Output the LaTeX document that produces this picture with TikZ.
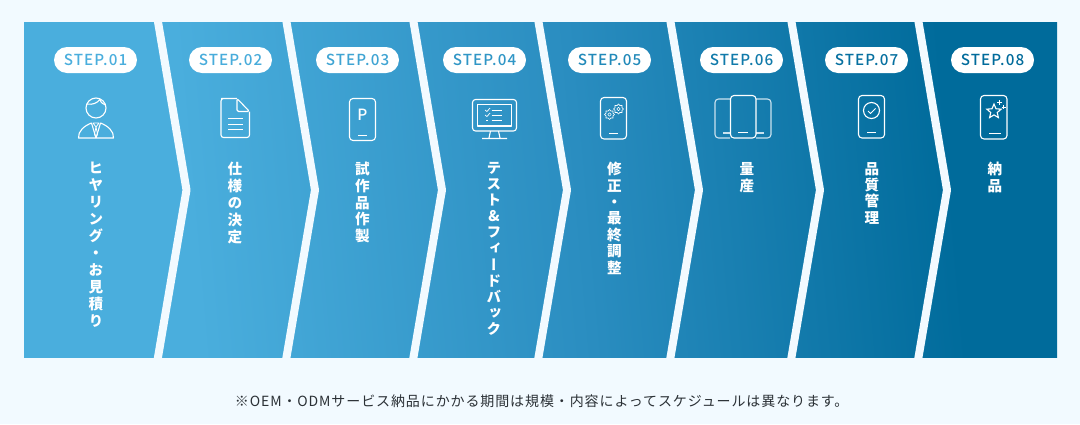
\documentclass[tikz,border=0pt]{standalone}
\usepackage{fontspec}
\setmainfont{Noto Sans CJK JP}
\newfontfamily\tatefont[RawFeature=+vert]{Noto Sans CJK JP}
\newfontfamily\pillfont[LetterSpace=7]{Noto Sans CJK JP Medium}
\newfontfamily\notefont[LetterSpace=6.4]{Noto Sans CJK JP}
\usepackage{xcolor}
\definecolor{paper}{HTML}{F2FAFF}
\definecolor{bandlight}{HTML}{4AAEDD}
\definecolor{bandmid}{HTML}{2A8DC0}
\definecolor{banddark}{HTML}{006B9B}
\definecolor{ink}{HTML}{2B3136}
\usetikzlibrary{shapes.geometric}
\pgfdeclarehorizontalshading{bandshade}{100bp}{
  color(0bp)=(bandlight); color(32bp)=(bandlight); color(52bp)=(bandmid);
  color(71bp)=(banddark); color(100bp)=(banddark)}

\begin{document}
\begin{tikzpicture}[x=1pt,y=-1pt,
  pill/.style={fill=white,rounded corners=13pt,minimum width=83pt,minimum height=26pt,
    inner sep=0pt,font=\pillfont\fontsize{15.2}{15}\selectfont},
  tate/.style={anchor=north,align=center,inner sep=0pt,text=white,
    font=\tatefont\bfseries\fontsize{14.6}{#1}\selectfont},
  icon/.style={draw=white,line width=1.1pt,line join=round},
  faint/.style={draw=white!75!bandmid,line width=1.1pt},
  gap/.style={draw=paper,line width=8pt,line join=bevel}]
  \useasboundingbox (0,0) rectangle (1080,424);
  \fill[paper] (0,0) rectangle (1080,424);

  % --- Bande en degrade ---
  \shade[shading=bandshade,shading angle=5] (24,22) rectangle (1057,357);

  % --- Separateurs ---
  \foreach \x in {158,286.5,413.5,538.5,670.5,791.5,918.5}
    \draw[gap] (\x-0.3,20) -- (\x+28.5,190) -- (\x-0.3,359);

  % --- Etapes ---
  \foreach \n/\px/\lx/\mix/\ls/\txt in {
    1/95.5/96/0/17/{ヒ\\ヤ\\リ\\ン\\グ\\・\\お\\見\\積\\り},
    2/230.5/235/3/17/{仕\\様\\の\\決\\定},
    3/357.5/362.5/15/16.7/{試\\作\\品\\作\\製},
    4/484.5/494/35/16.1/{テ\\ス\\ト\\\&\\フ\\ィ\\ー\\ド\\バ\\ッ\\ク},
    5/609.5/614.5/55/16.4/{修\\正\\・\\最\\終\\調\\整},
    6/741.5/747/78/17/{量\\産},
    7/866.5/872/92/16.3/{品\\質\\管\\理},
    8/992.5/995/100/17/{納\\品}}{
    \node[pill,text=banddark!\mix!bandlight] (pill\n) at (\px,60) {STEP.0\n};
    \node[tate=\ls] (label\n) at (\lx,162) {\txt};
  }

  % --- Icone 1 : personne ---
  \draw[icon] (96,108) circle[radius=10];
  \draw[icon] (87,104) .. controls (93,105) and (97,103) .. (100,99.5)
    .. controls (101,103) and (103,104) .. (105.5,105);
  \draw[icon] (78.5,138) .. controls (78,131) and (84,126) .. (91.5,123) -- (96,138)
    -- (100.5,123) .. controls (108,126) and (114,131) .. (113.5,138) -- cycle;
  \draw[icon,line width=.8pt] (93,123) -- (99,123) -- (96,127) -- cycle;
  \draw[icon,line width=.8pt] (96,127) -- (94.5,134) -- (96,138) -- (97.5,134) -- cycle;

  % --- Icone 2 : document ---
  \draw[icon,rounded corners=2.5pt] (237,98.5) -- (224,98.5) -- (221,98.5) -- (221,137.5)
    -- (249.5,137.5) -- (249.5,111.5);
  \draw[icon,rounded corners=1.5pt] (237,98.5) -- (237,111.5) -- (249.5,111.5) -- cycle;
  \foreach \y in {118.5,124,129}
    \draw[icon,line width=.9pt] (228,\y) -- (243,\y);

  % --- Icone 3 : telephone P ---
  \draw[icon,rounded corners=3.5pt] (349.5,98.5) rectangle (375.5,140.5);
  \draw[icon,line width=.9pt] (358,135) -- (367,135);
  \node[text=white,inner sep=0pt,font=\pillfont\fontsize{15.5}{15.5}\selectfont] (parking) at (362.5,115) {P};

  % --- Icone 4 : ecran ---
  \draw[icon,rounded corners=3pt] (472.5,99.5) rectangle (516.5,131);
  \draw[icon] (477.5,104.5) rectangle (511.5,126);
  \draw[icon] (490.5,131) -- (489,138) (498.5,131) -- (500,138) (482,138.5) -- (507,138.5);
  \foreach \y in {110,115}{
    \draw[icon,line width=.7pt] (485,\y) -- (487,\y+1.5) -- (490,\y-2);
    \draw[icon,line width=.7pt] (491.5,\y) -- (502,\y);
  }
  \draw[icon,line width=.7pt] (486,120) -- (488,120) (491.5,120) -- (502,120);

  % --- Icone 5 : telephone et engrenages ---
  \draw[icon,rounded corners=3.5pt] (600.5,97.5) rectangle (626.5,139);
  \draw[icon,line width=.9pt] (609,133.7) -- (618,133.7);
  \node[star,star points=8,star point ratio=1.35,draw=white,line width=.6pt,minimum size=10pt,inner sep=0pt] (gearleft) at (609.5,114.5) {};
  \node[star,star points=8,star point ratio=1.35,draw=white,line width=.6pt,minimum size=10pt,inner sep=0pt] (gearright) at (618.5,109) {};
  \draw[icon,line width=.6pt] (609.5,114.5) circle[radius=1.7] (618.5,109) circle[radius=1.7];

  % --- Icone 6 : trois telephones ---
  \draw[faint,rounded corners=3.5pt] (730,99) -- (715,99) -- (715,138) -- (730,138);
  \draw[faint,rounded corners=3.5pt] (756,99) -- (771,99) -- (771,138) -- (756,138);
  \draw[faint] (723,133) -- (730,133) (756,133) -- (764,133);
  \draw[icon,rounded corners=3.5pt] (730.5,95.5) rectangle (756,138);
  \draw[icon,line width=.9pt] (738,132) -- (748,132);

  % --- Icone 7 : telephone valide ---
  \draw[icon,rounded corners=3.5pt] (858.5,95.5) rectangle (884.5,138);
  \draw[icon,line width=.9pt] (867,132) -- (876,132);
  \draw[icon] (871.5,110.5) circle[radius=8];
  \draw[icon,line width=.8pt] (868,111) -- (870.5,113.5) -- (875.5,108.5);

  % --- Icone 8 : telephone etoile ---
  \draw[icon,rounded corners=3.5pt] (980.5,95.5) rectangle (1007,139);
  \draw[icon,line width=.9pt] (989,133) -- (1001,133);
  \node[star,star points=5,star point ratio=2.2,draw=white,line width=1.1pt,minimum size=15pt,inner sep=0pt] (starbig) at (994,111.5) {};
  \draw[icon] (999.5,100) -- (999.5,105) (997,102.5) -- (1002,102.5);
  \draw[icon,line width=.8pt] (1003.5,105) -- (1003.5,109) (1001.5,107) -- (1005.5,107);

  % --- Note ---
  \node[text=ink,inner sep=0pt,font=\notefont\fontsize{14}{14}\selectfont] (note) at (541.7,401)
    {※OEM・ODMサービス納品にかかる期間は規模・内容によってスケジュールは異なります。};
\end{tikzpicture}
\end{document}
